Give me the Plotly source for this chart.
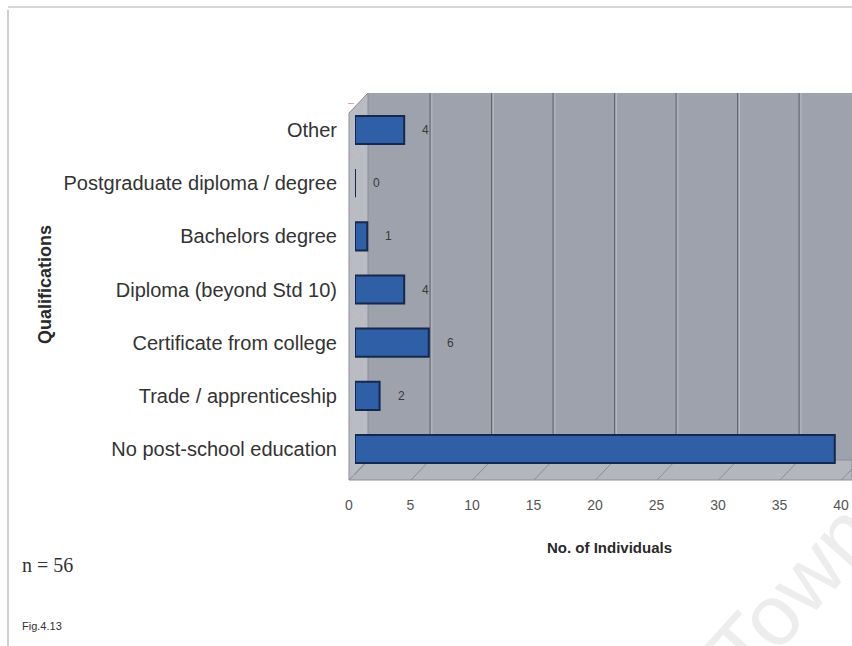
import plotly.graph_objects as go

# Qualification categories, listed bottom to top as drawn
categories = [
    "No post-school education",
    "Trade / apprenticeship",
    "Certificate from college",
    "Diploma (beyond Std 10)",
    "Bachelors degree",
    "Postgraduate diploma / degree",
    "Other",
]
counts = [39, 2, 6, 4, 1, 0, 4]
x_ticks = [0, 5, 10, 15, 20, 25, 30, 35, 40]

W, H = 852, 646
ML, MR, MT, MB = 355, 0, 93, 166
PW, PH = W - ML - MR, H - MT - MB
X_MAX = 40.4
DEPTH_X = 1.1  # depth offset of the back wall, in axis units
SANS = "Arial, Liberation Sans, sans-serif"


def px(x):
    return (x - ML) / PW


def py(y):
    return (H - MB - y) / PH


def poly(points):
    return "M " + " L ".join(f"{px(a):.5f},{py(b):.5f}" for a, b in points) + " Z"


fig = go.Figure()

fig.add_trace(go.Bar(
    x=counts,
    y=categories,
    orientation="h",
    marker=dict(color="#2f5fa6", line=dict(color="#14294d", width=2)),
    width=0.53,
    hoverinfo="x+y",
))

shapes = []
# back wall, floor and side wall of the 3-D frame
shapes.append(dict(type="path", xref="paper", yref="paper", layer="below",
                   path=poly([(368, 93), (W, 93), (W, 460), (368, 460)]),
                   fillcolor="#9ea2ac", line=dict(width=0)))
shapes.append(dict(type="path", xref="paper", yref="paper", layer="below",
                   path=poly([(349, 480), (W, 480), (W, 460), (368, 460)]),
                   fillcolor="#b3b6bd", line=dict(color="#8a8e96", width=1)))
shapes.append(dict(type="path", xref="paper", yref="paper", layer="below",
                   path=poly([(349, 113), (368, 93), (368, 460), (349, 480)]),
                   fillcolor="#b9bcc3", line=dict(color="#8a8e96", width=1)))

# gridlines on the back wall and their diagonals across the floor
for t in x_ticks:
    if t > 0:
        shapes.append(dict(type="line", xref="x", yref="paper", layer="below",
                           x0=t + DEPTH_X, x1=t + DEPTH_X, y0=py(460), y1=1,
                           line=dict(color="#5f636b", width=1)))
        shapes.append(dict(type="line", xref="x", yref="paper", layer="below",
                           x0=t + DEPTH_X + 0.15, x1=t + DEPTH_X + 0.15, y0=py(460), y1=1,
                           line=dict(color="#b8bbc2", width=1)))
    shapes.append(dict(type="line", xref="x", yref="paper", layer="below",
                       x0=t - 0.45, x1=t + DEPTH_X, y0=0, y1=py(460),
                       line=dict(color="#8a8e96", width=1)))

# page frame lines
shapes.append(dict(type="line", xref="paper", yref="paper",
                   x0=px(8), x1=px(8), y0=py(10), y1=py(H), line=dict(color="#cfcfcf", width=2)))
shapes.append(dict(type="line", xref="paper", yref="paper",
                   x0=px(8), x1=px(W), y0=py(7), y1=py(7), line=dict(color="#d6d6d6", width=2)))

annotations = [
    # faint watermark behind the lower right corner
    dict(x=px(792), y=py(592), xref="paper", yref="paper", text="Town", textangle=-48,
         showarrow=False, xanchor="center", yanchor="middle",
         font=dict(family="Liberation Sans, Arial", size=86, color="#ededed")),
]
# value labels beside each bar
for cat, v in zip(categories, counts):
    annotations.append(dict(x=v, y=cat, xref="x", yref="y", text=str(v),
                            showarrow=False, xanchor="left", yanchor="middle", xshift=16,
                            font=dict(family=SANS, size=12, color="#3a3a3a")))

annotations += [
    dict(x=px(609), y=py(547), xref="paper", yref="paper", text="<b>No. of Individuals</b>",
         showarrow=False, xanchor="center", yanchor="middle",
         font=dict(family=SANS, size=15, color="#2a2a2a")),
    dict(x=px(45), y=py(285), xref="paper", yref="paper", text="<b>Qualifications</b>",
         textangle=-90, showarrow=False, xanchor="center", yanchor="middle",
         font=dict(family=SANS, size=18, color="#2a2a2a")),
    dict(x=px(20), y=py(565), xref="paper", yref="paper", text="n = 56",
         xanchor="left", yanchor="middle", showarrow=False,
         font=dict(family="Liberation Serif, Times New Roman, serif", size=20, color="#333333")),
    dict(x=px(20), y=py(626), xref="paper", yref="paper", text="Fig.4.13",
         xanchor="left", yanchor="middle", showarrow=False,
         font=dict(family="Liberation Sans Narrow, Arial Narrow, sans-serif",
                   size=11, color="#333333")),
]

fig.update_layout(
    width=W, height=H,
    margin=dict(l=ML, r=MR, t=MT, b=MB, pad=0),
    paper_bgcolor="white",
    plot_bgcolor="rgba(0,0,0,0)",
    showlegend=False,
    shapes=shapes,
    annotations=annotations,
    xaxis=dict(
        range=[0, X_MAX], tickvals=x_ticks, ticktext=[str(t) for t in x_ticks],
        showgrid=False, zeroline=False, showline=False, ticks="",
        ticklabelstandoff=15, ticklabelshift=-6,
        tickfont=dict(family=SANS, size=14, color="#555555"),
        fixedrange=True,
    ),
    yaxis=dict(
        categoryorder="array", categoryarray=categories,
        range=[-0.583, 6.696],
        showgrid=False, zeroline=False, showline=False,
        ticks="outside", tickson="boundaries", ticklen=6, tickcolor="#d8a8a8",
        ticklabelstandoff=17,
        tickfont=dict(family=SANS, size=20, color="#333333"),
        fixedrange=True,
    ),
)

fig.write_html("out.html")
